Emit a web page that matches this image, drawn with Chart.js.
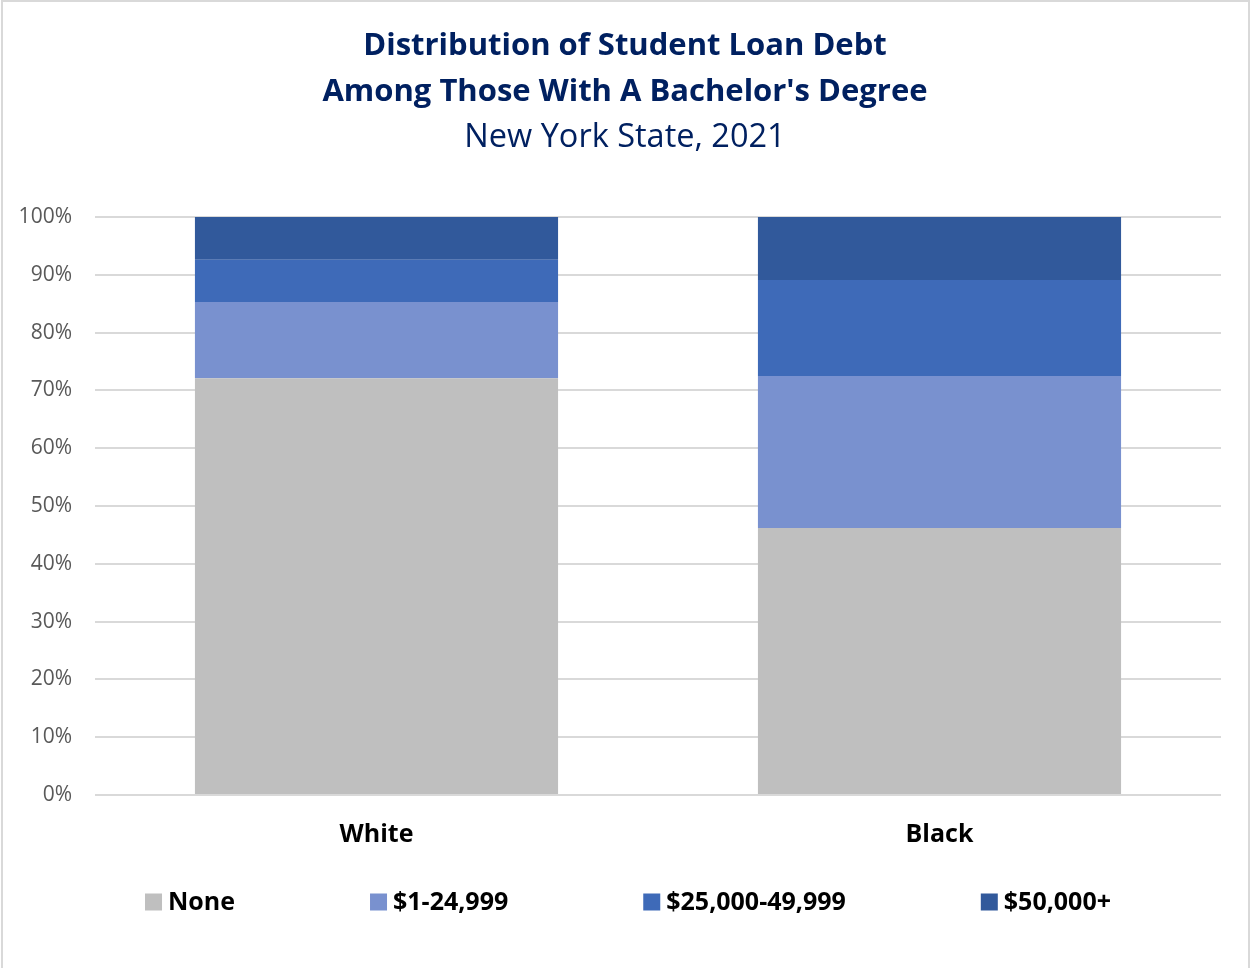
<!DOCTYPE html>
<html>
<head>
<meta charset="utf-8">
<title>Student Loan Debt</title>
<script src="https://cdn.jsdelivr.net/npm/chart.js@4.4.1/dist/chart.umd.min.js"></script>
<style>
  body { margin: 0; background: #fff; }
  #wrap { position: relative; width: 1250px; height: 968px; }
  #frame { position: absolute; left: 1px; top: 0; width: 1249px; height: 980px; border: 2px solid #d9d9d9; box-sizing: border-box; pointer-events: none; }
</style>
</head>
<body>
<div id="wrap">
  <canvas id="debtChart" width="1250" height="968"></canvas>
  <div id="frame"></div>
</div>
<script>
const groups = ['White', 'Black'];
const seriesNames = ['None', '$1-24,999', '$25,000-49,999', '$50,000+'];
const noneDebt = [72.1, 46.2];
const under25k = [13.2, 26.3];
const from25to50k = [7.3, 16.6];
const over50k = [7.4, 10.9];
const seriesColors = ['#bfbfbf', '#7991cf', '#3e6ab8', '#31599b'];

const seriesValues = [noneDebt, under25k, from25to50k, over50k];

// legend row under the axis, spaced wide like the office chart
const bottomLegend = {
    id: 'bottomLegend',
    afterDraw(chart) {
        const ctx = chart.ctx;
        const box = 17, gap = 6, spacing = 135, y = 902;
        ctx.save();
        ctx.font = 'bold 25px "Open Sans"';
        ctx.textBaseline = 'middle';
        const widths = seriesNames.map(n => box + gap + ctx.measureText(n).width);
        const total = widths.reduce((a, b) => a + b, 0) + spacing * (widths.length - 1);
        let x = 628 - total / 2;
        seriesNames.forEach((name, i) => {
            ctx.fillStyle = seriesColors[i];
            ctx.fillRect(x, y - box / 2, box, box);
            ctx.fillStyle = '#000';
            ctx.fillText(name, x + box + gap, y + 1);
            x += widths[i] + spacing;
        });
        ctx.restore();
    }
};

// let the y labels use the left margin so "100%" is not clipped
const axisEdge = {
    id: 'axisEdge',
    afterLayout(chart) {
        chart.scales.y.left = 0;
    }
};

const ctx = document.getElementById('debtChart').getContext('2d');

new Chart(ctx, {
    type: 'bar',
    data: {
        labels: groups,
        datasets: seriesNames.map((name, i) => ({
            label: name,
            data: seriesValues[i],
            backgroundColor: seriesColors[i],
            borderWidth: 0,
            barPercentage: 0.645,
            categoryPercentage: 1
        }))
    },
    options: {
        responsive: false,
        animation: false,
        layout: {
            padding: { top: 0, left: 29, right: 29, bottom: 0 }
        },
        plugins: {
            legend: { display: false },
            tooltip: { enabled: false },
            title: {
                display: true,
                text: ['Distribution of Student Loan Debt', "Among Those With A Bachelor's Degree"],
                color: '#002060',
                font: { family: 'Open Sans', size: 31, weight: 'bold', lineHeight: '46px' },
                padding: { top: 23, bottom: 0 }
            },
            subtitle: {
                display: true,
                text: 'New York State, 2021',
                color: '#002060',
                font: { family: 'Open Sans', size: 32.5, weight: 'normal', lineHeight: '46px' },
                padding: { top: 0, bottom: 56 }
            }
        },
        scales: {
            x: {
                stacked: true,
                grid: { display: false, drawTicks: false },
                border: { display: false },
                afterFit(scale) { scale.height = 173; },
                ticks: {
                    color: '#000',
                    padding: 25,
                    font: { family: 'Open Sans', size: 25, weight: 'bold' }
                }
            },
            y: {
                stacked: true,
                min: 0,
                max: 100,
                grid: { color: '#d9d9d9', lineWidth: 2, drawTicks: false },
                border: { display: false },
                afterFit(scale) { scale.width = 66; },
                ticks: {
                    stepSize: 10,
                    color: '#595959',
                    padding: 23,
                    font: { family: 'Open Sans', size: 21 },
                    callback: v => v + '%'
                }
            }
        }
    },
    plugins: [bottomLegend, axisEdge]
});
</script>
</body>
</html>
